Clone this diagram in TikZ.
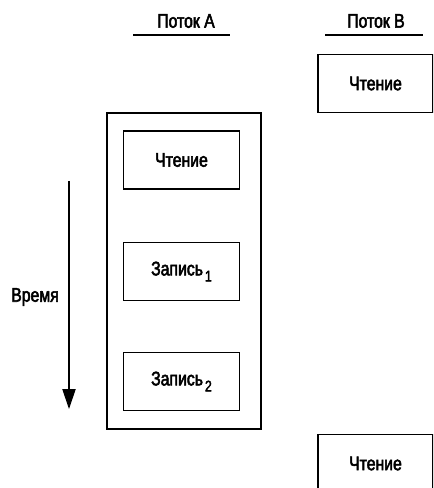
\documentclass[tikz,border=0pt]{standalone}
\usepackage{fontspec}
\setmainfont[FakeStretch=0.8,FakeBold=2.6]{Liberation Sans}
\usetikzlibrary{arrows.meta}
\newcommand{\idx}[1]{\kern1.5pt\raisebox{-4.5pt}{\fontsize{11.5}{11.5}\selectfont #1}}
\begin{document}
\begin{tikzpicture}[x=0.75pt,y=-0.75pt,
  font=\fontsize{14.8}{17}\selectfont,
  op/.style={draw,line width=1.4pt,minimum width=87pt,minimum height=43.5pt,inner sep=0pt},
  thread/.style={inner sep=0pt}]
\useasboundingbox (0,0) rectangle (433,488);
\clip (0,0) rectangle (433,488);
% thread headers
\node[thread] (headA) at (186,21) {Поток A};
\node[thread] (headB) at (376,21) {Поток B};
\coordinate (ulA1) at (133,35);
\coordinate (ulA2) at (230,35);
\coordinate (ulB1) at (325,35);
\coordinate (ulB2) at (423,35);
\draw[line width=1pt] (ulA1) -- (ulA2);
\draw[line width=1pt] (ulB1) -- (ulB2);
% thread A
\node[draw,line width=1.4pt,minimum width=115.5pt,minimum height=237pt,inner sep=0pt] (frameA) at (184,271) {};
\node[op] (readA) at (181.5,160) {Чтение};
\node[op] (writeA1) at (181.5,271.5) {Запись\idx{1}};
\node[op] (writeA2) at (181.5,381.5) {Запись\idx{2}};
% thread B
\node[op,minimum width=86.5pt] (readB1) at (375.5,83.5) {Чтение};
\node[op,minimum width=86.5pt] (readB2) at (375.5,463.5) {Чтение};
% time axis
\coordinate (timeTop) at (69,181);
\coordinate (timeBot) at (69,409);
\draw[line width=0.9pt,-{Triangle[length=15pt,width=10pt]}] (timeTop) -- (timeBot);
\node[thread] (timeLabel) at (35,297) {Время};
\end{tikzpicture}
\end{document}
